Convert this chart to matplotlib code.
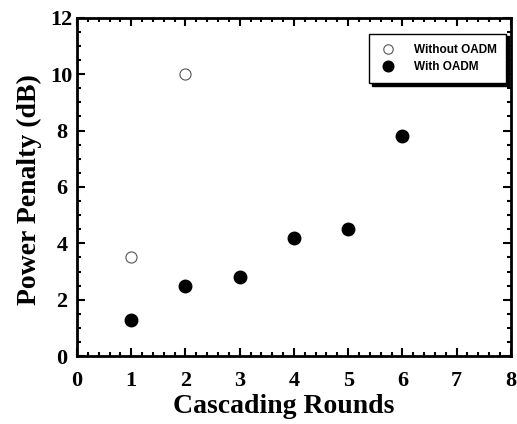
import matplotlib.pyplot as plt
from matplotlib.ticker import MultipleLocator

# data
rounds_without = [1, 2]
penalty_without = [3.5, 10.0]
rounds_with = [1, 2, 3, 4, 5, 6]
penalty_with = [1.3, 2.5, 2.8, 4.2, 4.5, 7.8]

serif = "Liberation Serif"

fig = plt.figure(figsize=(5.17, 4.24), dpi=100)
ax = fig.add_axes([0.149, 0.160, 0.839, 0.798])

ax.plot(rounds_without, penalty_without, linestyle="none", marker="o",
        markersize=8, markerfacecolor="white", markeredgecolor="#555555",
        markeredgewidth=0.8, label="Without OADM")
ax.plot(rounds_with, penalty_with, linestyle="none", marker="o",
        markersize=9, color="black", label="With OADM")

ax.set_xlim(0, 8)
ax.set_ylim(0, 12)
ax.xaxis.set_major_locator(MultipleLocator(1))
ax.xaxis.set_minor_locator(MultipleLocator(0.2))
ax.yaxis.set_major_locator(MultipleLocator(2))
ax.yaxis.set_minor_locator(MultipleLocator(0.5))
ax.tick_params(which="both", direction="in", top=True, right=True, width=1.5)
ax.tick_params(which="major", length=6)
ax.tick_params(which="minor", length=3)
ax.tick_params(axis="x", which="major", pad=11)
ax.tick_params(axis="y", which="major", pad=11)
for s in ax.spines.values():
    s.set_linewidth(2)

for lab in ax.get_xticklabels() + ax.get_yticklabels():
    lab.set_fontfamily(serif)
    lab.set_fontweight("bold")
    lab.set_fontsize(16)
for lab in ax.get_yticklabels():
    lab.set_horizontalalignment("center")

ax.set_xlabel("Cascading Rounds", fontfamily=serif, fontweight="bold",
              fontsize=20)
ax.set_ylabel("Power Penalty (dB)", fontfamily=serif, fontweight="bold",
              fontsize=20)
ax.xaxis.set_label_coords(0.477, -0.113)
ax.yaxis.set_label_coords(-0.08, 0.491)

leg = ax.legend(loc="upper right", bbox_to_anchor=(0.99, 0.953),
                prop={"family": "Liberation Sans", "weight": "bold", "size": 8.5},
                frameon=True, fancybox=False,
                shadow={"color": "black", "alpha": 1, "ox": 2, "oy": -2},
                handletextpad=1.4, handlelength=1.5, borderpad=0.85,
                labelspacing=0.45, borderaxespad=0, markerscale=0.85)
leg.get_frame().set_edgecolor("black")
leg.get_frame().set_linewidth(1.0)

fig.savefig("out.png", dpi=100)
